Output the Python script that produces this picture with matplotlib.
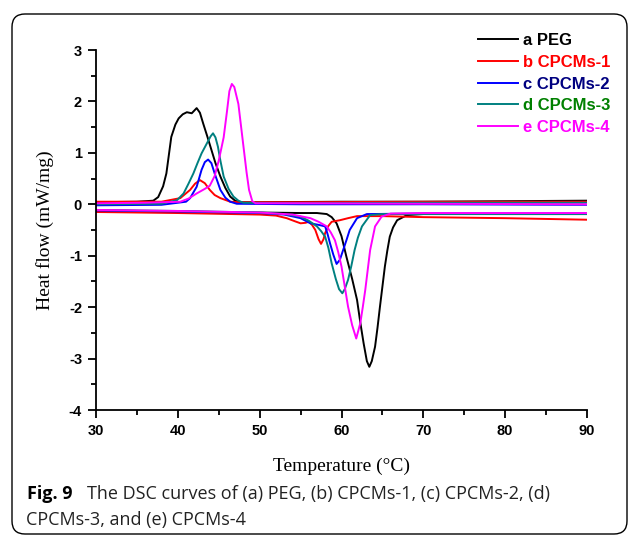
import matplotlib
matplotlib.use("Agg")
import matplotlib.pyplot as plt
from matplotlib.patches import FancyBboxPatch
from matplotlib.ticker import MultipleLocator

plt.rcParams['axes.unicode_minus'] = False

# cooling (upper, exothermic) and heating (lower, endothermic) branches
peg_cool_t = [30, 35, 37.0, 37.6, 38.2, 38.6, 39.2, 39.7, 40.1, 40.6, 41.1, 41.7, 42.3, 42.7, 43.1, 43.6, 44.1, 44.6, 45.2, 45.8, 46.4, 47.0, 47.6, 50, 60, 70, 80, 90]
peg_cool_h = [0.04, 0.05, 0.07, 0.14, 0.35, 0.6, 1.31, 1.55, 1.67, 1.75, 1.79, 1.77, 1.87, 1.78, 1.57, 1.32, 1.06, 0.8, 0.54, 0.32, 0.15, 0.07, 0.04, 0.04, 0.05, 0.05, 0.06, 0.07]
peg_heat_t = [30, 40, 50, 55, 57, 58.2, 58.8, 59.4, 60.0, 60.6, 61.3, 61.9, 62.3, 62.7, 63.1, 63.4, 63.7, 64.1, 64.4, 64.7, 65.0, 65.3, 65.6, 65.9, 66.3, 66.8, 68.0, 70, 80, 90]
peg_heat_h = [-0.12, -0.14, -0.16, -0.17, -0.17, -0.19, -0.25, -0.37, -0.62, -1.02, -1.45, -1.86, -2.3, -2.7, -3.05, -3.16, -3.05, -2.77, -2.4, -1.99, -1.6, -1.21, -0.9, -0.63, -0.45, -0.31, -0.21, -0.19, -0.19, -0.19]

c1_cool_t = [30, 38, 40.3, 41.5, 42.1, 42.7, 43.3, 43.9, 44.5, 45.2, 46.4, 47.5, 55, 70, 90]
c1_cool_h = [0.05, 0.05, 0.12, 0.28, 0.40, 0.47, 0.41, 0.28, 0.18, 0.12, 0.05, 0.04, 0.04, 0.05, 0.05]
c1_heat_t = [30, 40, 50, 52, 53.3, 54.3, 55.0, 55.6, 56.0, 56.4, 56.8, 57.2, 57.5, 57.8, 58.0, 58.4, 58.8, 59.8, 60.8, 61.9, 65, 70, 80, 90]
c1_heat_h = [-0.15, -0.17, -0.2, -0.22, -0.27, -0.33, -0.37, -0.36, -0.34, -0.40, -0.5, -0.68, -0.77, -0.68, -0.56, -0.42, -0.34, -0.31, -0.27, -0.23, -0.23, -0.25, -0.27, -0.30]

c2_cool_t = [30, 38, 41.0, 41.5, 42.3, 42.9, 43.3, 43.7, 44.1, 44.5, 45.2, 45.8, 46.4, 47.2, 55, 70, 90]
c2_cool_h = [-0.02, -0.01, 0.05, 0.12, 0.34, 0.67, 0.82, 0.87, 0.8, 0.6, 0.28, 0.13, 0.05, 0.01, 0.0, 0.0, -0.01]
c2_heat_t = [30, 40, 50, 53, 55.0, 56.2, 57.2, 58.0, 58.3, 58.6, 59.0, 59.4, 59.8, 60.2, 60.6, 61.0, 61.9, 63.1, 70, 90]
c2_heat_h = [-0.12, -0.14, -0.17, -0.2, -0.27, -0.37, -0.40, -0.43, -0.58, -0.76, -0.98, -1.16, -1.08, -0.89, -0.7, -0.5, -0.27, -0.19, -0.18, -0.18]

c3_cool_t = [30, 38, 39.9, 40.7, 41.3, 41.9, 42.4, 42.9, 43.5, 44.0, 44.3, 44.6, 44.9, 45.2, 45.6, 46.2, 46.8, 47.4, 48.0, 55, 70, 90]
c3_cool_h = [0.0, 0.01, 0.08, 0.21, 0.4, 0.6, 0.8, 0.99, 1.17, 1.32, 1.38, 1.3, 1.12, 0.85, 0.54, 0.3, 0.15, 0.07, 0.03, 0.02, 0.03, 0.03]
c3_heat_t = [30, 40, 50, 53, 55.0, 56.0, 57.0, 57.5, 58.0, 58.4, 58.8, 59.3, 59.7, 60.1, 60.4, 60.8, 61.2, 61.6, 62.0, 62.5, 63.5, 65, 90]
c3_heat_h = [-0.11, -0.13, -0.16, -0.19, -0.24, -0.32, -0.43, -0.52, -0.63, -0.85, -1.15, -1.45, -1.65, -1.73, -1.65, -1.47, -1.2, -0.89, -0.65, -0.43, -0.21, -0.19, -0.19]

c4_cool_t = [30, 36, 40.3, 41.3, 42.3, 43.3, 43.9, 44.5, 45.0, 45.6, 46.0, 46.3, 46.6, 46.9, 47.4, 48.0, 48.4, 48.7, 49.1, 49.5, 55, 70, 90]
c4_cool_h = [0.02, 0.03, 0.05, 0.11, 0.21, 0.3, 0.36, 0.55, 0.85, 1.3, 1.8, 2.2, 2.34, 2.28, 1.95, 1.15, 0.62, 0.28, 0.06, 0.02, 0.02, 0.01, 0.0]
c4_heat_t = [30, 40, 50, 54, 56.2, 57.2, 58.2, 58.7, 59.2, 59.6, 60.0, 60.4, 60.8, 61.3, 61.8, 62.3, 62.6, 62.9, 63.2, 63.5, 64.1, 64.9, 66, 70, 90]
c4_heat_h = [-0.11, -0.13, -0.16, -0.2, -0.27, -0.34, -0.43, -0.55, -0.70, -0.93, -1.21, -1.6, -1.99, -2.35, -2.61, -2.31, -2.0, -1.67, -1.28, -0.89, -0.43, -0.24, -0.18, -0.17, -0.17]

labels = ["a PEG", "b CPCMs-1", "c CPCMs-2", "d CPCMs-3", "e CPCMs-4"]
line_colors = ["black", "#ff0000", "#0000ff", "#008080", "#ff00ff"]
text_colors = ["black", "#ff0000", "#000080", "#008000", "#ff00ff"]

curves = [
    (peg_cool_t, peg_cool_h, peg_heat_t, peg_heat_h),
    (c1_cool_t, c1_cool_h, c1_heat_t, c1_heat_h),
    (c2_cool_t, c2_cool_h, c2_heat_t, c2_heat_h),
    (c3_cool_t, c3_cool_h, c3_heat_t, c3_heat_h),
    (c4_cool_t, c4_cool_h, c4_heat_t, c4_heat_h),
]

W, H = 629, 536
fig = plt.figure(figsize=(W / 100, H / 100), dpi=100)
ax = fig.add_axes([96 / W, 1 - 410 / H, (587 - 96) / W, (410 - 50) / H])

handles = []
for (ct, ch, ht, hh), col, lab in zip(curves, line_colors, labels):
    ln, = ax.plot(ct, ch, color=col, lw=1.4, label=lab)
    ax.plot(ht, hh, color=col, lw=1.4)
    handles.append(ln)

ax.set_xlim(30, 90)
ax.set_ylim(-4, 3)
ax.xaxis.set_major_locator(MultipleLocator(10))
ax.xaxis.set_minor_locator(MultipleLocator(5))
ax.yaxis.set_major_locator(MultipleLocator(1))
ax.yaxis.set_minor_locator(MultipleLocator(0.5))
ax.spines['top'].set_visible(False)
ax.spines['right'].set_visible(False)
for s in ['left', 'bottom']:
    ax.spines[s].set_linewidth(1.3)
ax.tick_params(which='major', direction='out', length=6, width=1.3, pad=4)
ax.tick_params(which='minor', direction='out', length=3.5, width=1.3)
for t in ax.get_xticklabels() + ax.get_yticklabels():
    t.set_fontfamily('Liberation Sans')
    t.set_fontweight('bold')
    t.set_fontsize(10.5)

ax.set_xlabel("Temperature (°C)", fontfamily='Liberation Serif', fontsize=14, labelpad=14)
ax.set_ylabel("Heat flow (mW/mg)", fontfamily='Liberation Serif', fontsize=14, labelpad=11)

leg = fig.legend(handles=handles, loc='upper left', bbox_to_anchor=(470 / W, 1 - 25 / H),
                 frameon=False, borderpad=0, handlelength=2.4, handletextpad=0.3,
                 labelspacing=0.4, prop={'family': 'Liberation Sans', 'weight': 'bold', 'size': 12})
for txt, c in zip(leg.get_texts(), text_colors):
    txt.set_color(c)

# caption
fig.text(27 / W, 1 - 499 / H, "Fig. 9", fontfamily='Open Sans', fontweight='bold', fontsize=13, va='baseline')
fig.text(87 / W, 1 - 499 / H, "The DSC curves of (a) PEG, (b) CPCMs-1, (c) CPCMs-2, (d)",
         fontfamily='Open Sans', fontsize=13, va='baseline', color='#222222')
fig.text(26 / W, 1 - 525 / H, "CPCMs-3, and (e) CPCMs-4",
         fontfamily='Open Sans', fontsize=13, va='baseline', color='#222222')

frame = FancyBboxPatch((12, 2), 615, 520, boxstyle="round,pad=0,rounding_size=13",
                       transform=None, fill=False, edgecolor='black', lw=1.0)
fig.patches.append(frame)

fig.savefig("out.png", dpi=100)
